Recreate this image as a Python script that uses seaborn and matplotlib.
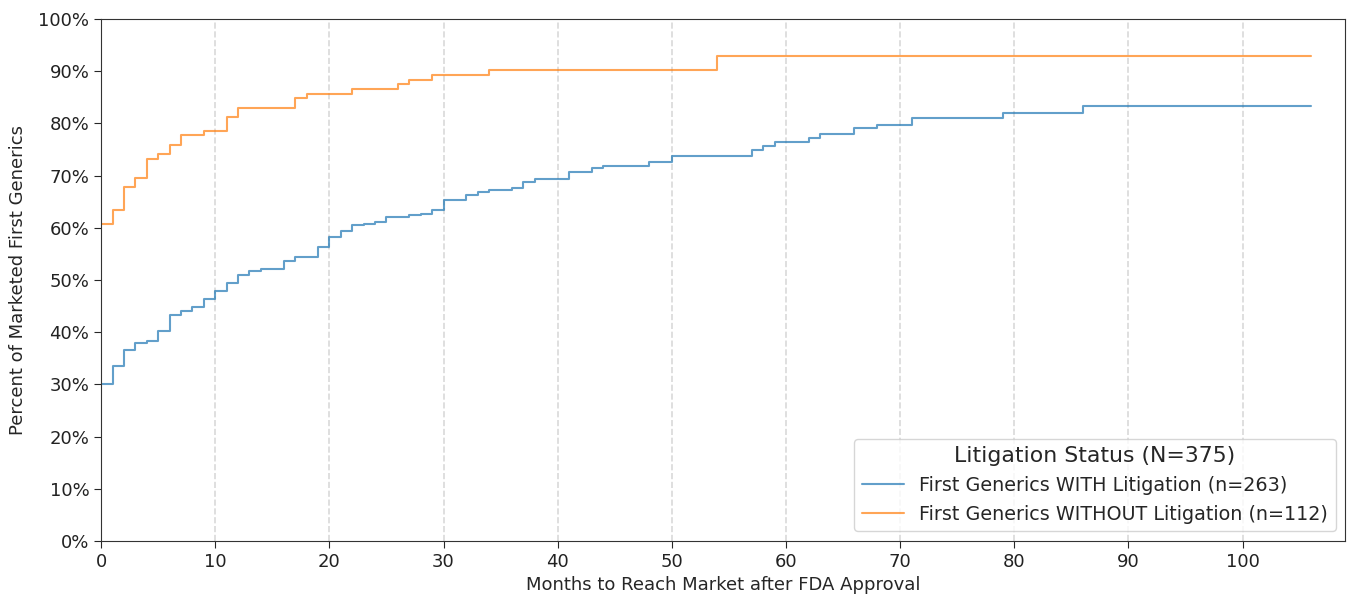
import numpy as np
import pandas as pd
import matplotlib
matplotlib.use("Agg")
import matplotlib.pyplot as plt
import matplotlib.ticker as mtick
import seaborn as sns

# step points (month, cumulative % marketed)
with_months = [0, 1, 2, 3, 4, 5, 6, 7, 8, 9, 10, 11, 12, 13, 14, 16, 17, 19, 20, 21,
               22, 23, 24, 25, 27, 28, 29, 30, 32, 33, 34, 36, 37, 38, 41, 43, 44, 48,
               50, 57, 58, 59, 62, 63, 66, 68, 71, 79, 86, 106]
with_pct = [30.0, 33.5, 36.5, 38.0, 38.4, 40.3, 43.3, 44.1, 44.9, 46.4, 47.9, 49.4,
            51.0, 51.7, 52.1, 53.6, 54.4, 56.3, 58.2, 59.3, 60.5, 60.8, 61.2, 62.0,
            62.4, 62.7, 63.5, 65.4, 66.2, 66.9, 67.3, 67.7, 68.8, 69.4, 70.7, 71.5,
            71.9, 72.6, 73.8, 74.9, 75.7, 76.4, 77.2, 77.9, 79.1, 79.8, 81.0, 82.1,
            83.3, 83.3]

without_months = [0, 1, 2, 3, 4, 5, 6, 7, 9, 11, 12, 17, 18, 22, 26, 27, 29, 34, 54, 106]
without_pct = [60.7, 63.4, 67.9, 69.6, 73.2, 74.1, 75.9, 77.7, 78.6, 81.3, 83.0, 84.8,
               85.7, 86.6, 87.5, 88.4, 89.3, 90.2, 92.9, 92.9]

label_with = "First Generics WITH Litigation (n=263)"
label_without = "First Generics WITHOUT Litigation (n=112)"

df = pd.concat([
    pd.DataFrame({"Months": with_months, "Pct": with_pct, "Group": label_with}),
    pd.DataFrame({"Months": without_months, "Pct": without_pct, "Group": label_without}),
])

sns.set_style("ticks")
plt.rcParams["font.family"] = ["DejaVu Sans"]

fig, ax = plt.subplots(figsize=(13.48, 5.97), dpi=100)
sns.lineplot(data=df, x="Months", y="Pct", hue="Group",
             palette=["#1f77b4", "#ff7f0e"], drawstyle="steps-post",
             alpha=0.7, linewidth=1.5, ax=ax)

ax.set_xlim(0, 109)
ax.set_ylim(0, 100)
ax.set_xticks(np.arange(0, 101, 10))
ax.set_yticks(np.arange(0, 101, 10))
ax.yaxis.set_major_formatter(mtick.PercentFormatter(decimals=0))
ax.xaxis.grid(True, linestyle="--", color="#d9d9d9", linewidth=1.2)
ax.yaxis.grid(False)
ax.tick_params(labelsize=13, length=5, labelcolor="#222222")
for s in ax.spines.values():
    s.set_color("#333333")
ax.set_xlabel("Months to Reach Market after FDA Approval", fontsize=13)
ax.set_ylabel("Percent of Marketed First Generics", fontsize=13, labelpad=8)

leg = ax.legend(title="Litigation Status (N=375)", loc="lower right",
                fontsize=13.8, title_fontsize=15.8, frameon=True,
                handlelength=2.2)
leg.get_frame().set_edgecolor("#cccccc")

plt.subplots_adjust(left=0.075, right=0.998, top=0.968, bottom=0.094)
plt.savefig("out.png", dpi=100)
